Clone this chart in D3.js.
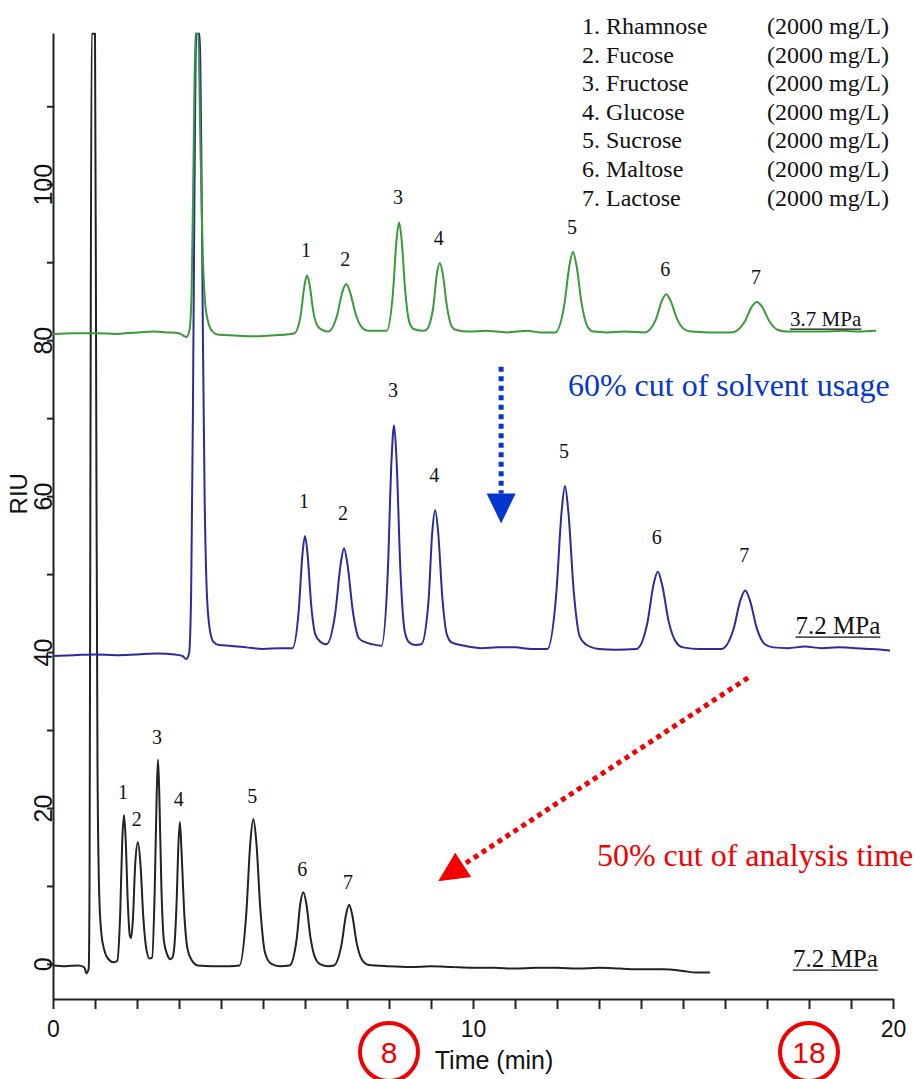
<!DOCTYPE html>
<html>
<head>
<meta charset="utf-8">
<script src="https://cdn.jsdelivr.net/npm/d3@7"></script>
<style>
body { margin: 0; background: #fff; }
svg { display: block; }
</style>
</head>
<body>
<div id="chart"></div>
<script>
"use strict";

// traces, [time (min), RIU]
let trace37 = [[0,80.8],[0.5,80.9],[1.0,80.9],[1.5,80.8],[2.0,81.0],[2.4,81.1],[2.7,81.0],[3.0,80.9],[3.1,80.6],[3.18,80.4],[3.25,81.3],[3.3,86],[3.35,105],[3.39,119.3],[3.46,119.3],[3.5,108],[3.56,92],[3.62,85],[3.7,82.2],[3.8,81.1],[3.95,80.7],[4.3,80.6],[4.8,80.5],[5.2,80.6],[5.5,80.7],[5.75,80.9],[5.9,83.3],[5.99,87.1],[6.05,88.3],[6.11,87.1],[6.2,83.6],[6.3,81.8],[6.42,81.3],[6.55,81.1],[6.76,83.1],[6.89,86.2],[6.98,87.2],[7.07,86.2],[7.21,83.3],[7.36,81.6],[7.5,81.2],[7.7,81.2],[7.94,81.2],[8.09,85.8],[8.18,92.9],[8.24,95.1],[8.3,92.9],[8.39,86.1],[8.49,82.2],[8.6,81.4],[8.8,81.2],[8.88,81.3],[9.05,84.1],[9.14,88.5],[9.21,89.9],[9.28,88.5],[9.38,84.3],[9.49,81.8],[9.6,81.3],[9.9,81.1],[10.3,81.2],[10.8,81.0],[11.3,81.2],[11.6,81.0],[11.96,81.0],[12.17,84.4],[12.3,89.7],[12.38,91.3],[12.46,89.7],[12.59,84.6],[12.73,81.7],[12.87,81.1],[13.2,81.0],[13.6,81.1],[14.09,81.0],[14.35,82.6],[14.5,85.1],[14.6,85.9],[14.7,85.1],[14.86,82.7],[15.03,81.4],[15.2,81.1],[15.6,81.0],[16.16,81.0],[16.46,82.3],[16.64,84.3],[16.76,84.9],[16.88,84.3],[17.06,82.4],[17.26,81.3],[17.46,81.1],[17.8,81.1],[18.3,81.1],[18.8,81.2],[19.2,81.1],[19.6,81.2]];

let trace72 = [[0,39.5],[0.5,39.6],[1.0,39.7],[1.5,39.6],[2.0,39.7],[2.5,39.8],[2.9,39.7],[3.08,39.5],[3.17,39.1],[3.24,39.8],[3.29,48],[3.33,70],[3.37,100],[3.41,119.3],[3.49,119.3],[3.53,105],[3.57,80],[3.61,60],[3.66,48],[3.73,43],[3.82,41.3],[3.95,40.9],[4.2,40.8],[4.6,40.6],[5.0,40.4],[5.4,40.5],[5.7,40.5],[5.85,45.3],[5.94,52.6],[6.0,54.9],[6.06,52.6],[6.15,45.9],[6.25,42.2],[6.37,41.3],[6.51,41.0],[6.72,45.0],[6.85,51.3],[6.93,53.3],[7.01,51.3],[7.14,45.2],[7.28,41.8],[7.42,41.3],[7.6,41.0],[7.82,40.8],[7.97,50.1],[8.06,64.6],[8.12,69.1],[8.18,64.6],[8.27,50.7],[8.37,42.8],[8.47,41.3],[8.62,40.9],[8.77,41.0],[8.94,46.5],[9.03,55.4],[9.1,58.2],[9.17,55.4],[9.27,47.0],[9.38,42.2],[9.5,41.2],[9.8,40.8],[10.2,40.5],[10.6,40.6],[11.0,40.6],[11.4,40.4],[11.77,40.4],[11.98,47.3],[12.11,58.0],[12.19,61.3],[12.27,58.0],[12.4,47.7],[12.54,42.0],[12.68,41.0],[13.0,40.4],[13.4,40.3],[13.89,40.4],[14.15,43.7],[14.3,48.7],[14.4,50.3],[14.5,48.7],[14.66,43.9],[14.83,41.3],[15.0,40.6],[15.4,40.4],[15.91,40.4],[16.2,42.9],[16.37,46.7],[16.48,47.9],[16.59,46.7],[16.76,43.0],[16.95,41.0],[17.15,40.6],[17.5,40.5],[17.9,40.7],[18.3,40.5],[18.7,40.6],[19.1,40.5],[19.5,40.4],[19.93,40.2]];

let traceFast = [[0,-0.2],[0.3,-0.3],[0.6,-0.2],[0.74,-0.4],[0.8,-1.2],[0.85,-0.6],[0.87,10],[0.89,60],[0.92,119.3],[1.0,119.3],[1.03,70],[1.06,25],[1.1,9],[1.15,4],[1.22,1.8],[1.32,0.6],[1.45,0.2],[1.53,0.4],[1.6,6.5],[1.65,16.0],[1.69,19.1],[1.73,16.0],[1.78,8.0],[1.83,3.6],[1.86,3.3],[1.9,5.5],[1.96,13.0],[2.02,15.6],[2.08,13.0],[2.15,6.0],[2.22,2.0],[2.3,0.7],[2.36,0.8],[2.42,9.0],[2.47,22.0],[2.5,26.2],[2.53,22.0],[2.58,10.0],[2.64,3.0],[2.72,1.2],[2.8,0.6],[2.85,0.9],[2.9,3.0],[2.95,9.0],[2.98,14.5],[3.02,18.2],[3.06,14.5],[3.12,7.0],[3.2,2.0],[3.3,0.5],[3.45,-0.2],[3.8,-0.3],[4.2,-0.3],[4.44,-0.2],[4.6,6.3],[4.7,15.7],[4.77,18.6],[4.84,15.7],[4.94,6.8],[5.05,1.4],[5.2,0.0],[5.4,-0.3],[5.63,-0.2],[5.8,3.1],[5.89,7.8],[5.96,9.2],[6.03,7.8],[6.13,3.4],[6.24,0.8],[6.38,-0.1],[6.55,-0.3],[6.69,-0.2],[6.87,2.5],[6.98,6.4],[7.05,7.6],[7.12,6.4],[7.23,2.7],[7.35,0.6],[7.5,-0.1],[8.0,-0.3],[8.5,-0.4],[9.0,-0.3],[9.5,-0.4],[10.0,-0.5],[10.5,-0.5],[11.0,-0.6],[11.5,-0.5],[12.0,-0.5],[12.5,-0.6],[13.0,-0.5],[13.5,-0.6],[14.0,-0.7],[14.5,-0.7],[15.0,-0.9],[15.3,-1.1],[15.64,-1.1]];

// peak tops, used for the numbers above each peak
let apex37 = [[6.05,88.3],[6.98,87.2],[8.24,95.1],[9.21,89.9],[12.38,91.3],[14.6,85.9],[16.76,84.9]];
let apex72 = [[6.0,54.9],[6.93,53.3],[8.12,69.1],[9.1,58.2],[12.19,61.3],[14.4,50.3],[16.48,47.9]];
let apexFast = [[1.69,19.1],[2.02,15.6],[2.5,26.2],[3.02,18.2],[4.77,18.6],[5.96,9.2],[7.05,7.6]];

let peakNames = ["1. Rhamnose","2. Fucose","3. Fructose","4. Glucose","5. Sucrose","6. Maltose","7. Lactose"];
let peakConc = ["(2000 mg/L)","(2000 mg/L)","(2000 mg/L)","(2000 mg/L)","(2000 mg/L)","(2000 mg/L)","(2000 mg/L)"];
let pressures = ["3.7 MPa","7.2 MPa","7.2 MPa"];

let xTicks = [0,1,2,3,4,5,6,7,8,9,10,11,12,13,14,15,16,17,18,19,20];
let xTickLabels = [0,10,20];
let yTicks = [0,10,20,30,40,50,60,70,80,90,100,110];
let yTickLabels = [0,20,40,60,80,100];
let circledTimes = [8,18];

var width = 915,
    height = 1079,
    serif = "'Liberation Serif','Times New Roman',serif",
    sans = "'Liberation Sans',Arial,sans-serif";

var x = d3.scaleLinear().domain([0, 20]).range([53, 893]);
var y = d3.scaleLinear().domain([-4.5, 119.4]).range([999, 33]);

var svg = d3.select("#chart").append("svg")
  .attr("width", width)
  .attr("height", height);

svg.append("clipPath").attr("id", "plot")
  .append("rect")
    .attr("x", x(0)).attr("y", y(119.4) - 1)
    .attr("width", x(20) - x(0)).attr("height", y(-4.5) - y(119.4) + 1);

// axes
var xAxis = d3.axisBottom(x)
  .tickValues(xTicks)
  .tickSize(10)
  .tickSizeOuter(0)
  .tickPadding(12)
  .tickFormat(function(d) { return xTickLabels.indexOf(d) >= 0 ? d : ""; });

var gx = svg.append("g")
  .attr("transform", "translate(0," + y(-4.5) + ")")
  .call(xAxis);
gx.selectAll("text").style("font-family", sans).style("font-size", "23px").attr("fill", "#111");

var yAxis = d3.axisLeft(y)
  .tickValues(yTicks)
  .tickSize(6)
  .tickSizeOuter(0)
  .tickFormat(function(d) { return yTickLabels.indexOf(d) >= 0 ? d : ""; });

var gy = svg.append("g")
  .attr("transform", "translate(" + x(0) + ",0)")
  .call(yAxis);
gy.selectAll("text")
  .attr("transform", "rotate(-90)")
  .attr("x", 0).attr("y", -1).attr("dy", 0)
  .style("text-anchor", "middle")
  .style("font-family", sans).style("font-size", "25px")
  .attr("fill", "#111");

svg.selectAll(".domain, .tick line").attr("stroke", "#222").attr("stroke-width", 2);

svg.append("text")
  .attr("transform", "translate(27," + y(60.3) + ") rotate(-90)")
  .style("text-anchor", "middle")
  .style("font-family", sans).style("font-size", "24px")
  .attr("fill", "#111")
  .text("RIU");

svg.append("text")
  .attr("x", x(10.5)).attr("y", 1069)
  .style("text-anchor", "middle")
  .style("font-family", sans).style("font-size", "25px")
  .attr("fill", "#111")
  .text("Time (min)");

// traces
var line = d3.line()
  .x(function(d) { return x(d[0]); })
  .y(function(d) { return y(d[1]); })
  .curve(d3.curveMonotoneX);

var traces = [
  {data: traceFast, apex: apexFast, color: "#222222", lift: 16},
  {data: trace72, apex: apex72, color: "#2b2b9c", lift: 28},
  {data: trace37, apex: apex37, color: "#3a9a3a", lift: 18}
];

var plot = svg.append("g").attr("clip-path", "url(#plot)");

traces.forEach(function(tr) {
  plot.append("path")
    .datum(tr.data)
    .attr("fill", "none")
    .attr("stroke", tr.color)
    .attr("stroke-width", 2)
    .attr("stroke-linejoin", "round")
    .attr("d", line);

  svg.selectAll(null).data(tr.apex)
    .enter().append("text")
      .attr("x", function(d) { return x(d[0]) - 1; })
      .attr("y", function(d) { return y(d[1]) - tr.lift; })
      .style("text-anchor", "middle")
      .style("font-family", serif).style("font-size", "20px")
      .attr("fill", "#111")
      .text(function(d, i) { return i + 1; });
});

// pressure labels, underlined
var pressurePos = [[17.55, 81.8, 21], [17.68, 42.3, 25], [17.62, -0.4, 25]];
pressures.forEach(function(p, i) {
  var pos = pressurePos[i];
  var t = svg.append("text")
    .attr("x", x(pos[0])).attr("y", y(pos[1]))
    .style("font-family", serif).style("font-size", pos[2] + "px")
    .attr("fill", "#111")
    .text(p);
  var w = t.node().getComputedTextLength();
  svg.append("line")
    .attr("x1", x(pos[0])).attr("x2", x(pos[0]) + w)
    .attr("y1", y(pos[1]) + 3).attr("y2", y(pos[1]) + 3)
    .attr("stroke", "#111").attr("stroke-width", 1.3);
});

// legend
var legend = svg.append("g")
  .style("font-family", serif).style("font-size", "24px")
  .attr("fill", "#111");
legend.selectAll(".nm").data(peakNames)
  .enter().append("text")
    .attr("x", 582)
    .attr("y", function(d, i) { return 34 + i * 28.6; })
    .text(function(d) { return d; });
legend.selectAll(".cc").data(peakConc)
  .enter().append("text")
    .attr("x", 767)
    .attr("y", function(d, i) { return 34 + i * 28.6; })
    .text(function(d) { return d; });

// dotted arrows
function arrow(t1, v1, t2, v2, color) {
  var x1 = x(t1), y1 = y(v1), x2 = x(t2), y2 = y(v2);
  var dx = x2 - x1, dy = y2 - y1, len = Math.sqrt(dx * dx + dy * dy);
  var ux = dx / len, uy = dy / len, head = 30, half = 14.5;
  var bx = x2 - ux * head, by = y2 - uy * head;
  svg.append("line")
    .attr("x1", x1).attr("y1", y1).attr("x2", bx).attr("y2", by)
    .attr("stroke", color).attr("stroke-width", 5)
    .attr("stroke-dasharray", "5,4.5");
  svg.append("polygon")
    .attr("points", [[x2, y2], [bx - uy * half, by + ux * half], [bx + uy * half, by - ux * half]].join(" "))
    .attr("fill", color);
}

arrow(10.67, 76.6, 10.67, 56.5, "#0636d0");
arrow(16.55, 36.7, 9.17, 10.6, "#f40000");

svg.append("text")
  .attr("x", x(12.26)).attr("y", y(72.8))
  .style("font-family", serif).style("font-size", "32px")
  .attr("fill", "#0636d0")
  .text("60% cut of solvent usage");

svg.append("text")
  .attr("x", x(12.95)).attr("y", y(12.6))
  .style("font-family", serif).style("font-size", "32px")
  .attr("fill", "#f40000")
  .text("50% cut of analysis time");

// circled times under the axis
var marks = svg.selectAll(".circ").data(circledTimes).enter().append("g");
marks.append("circle")
  .attr("cx", function(d) { return x(d); })
  .attr("cy", 1052)
  .attr("r", 29)
  .attr("fill", "none")
  .attr("stroke", "#f00000")
  .attr("stroke-width", 4);
marks.append("text")
  .attr("x", function(d) { return x(d); })
  .attr("y", 1063)
  .style("text-anchor", "middle")
  .style("font-family", sans).style("font-size", "30px")
  .attr("fill", "#f00000")
  .text(function(d) { return d; });
</script>
</body>
</html>
